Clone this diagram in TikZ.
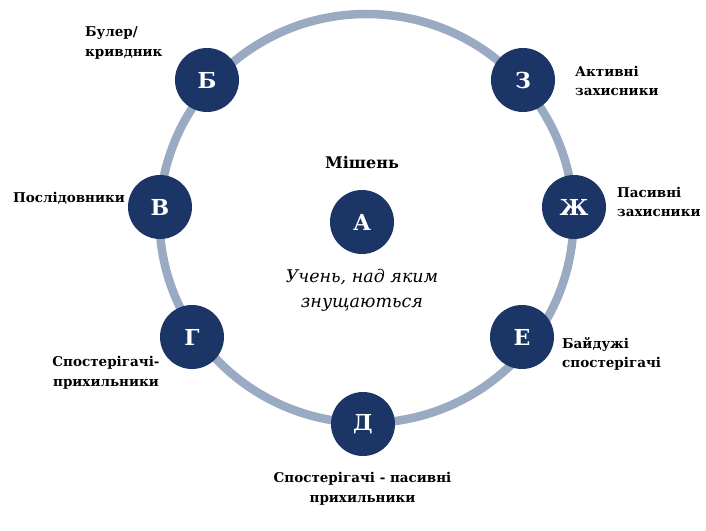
\documentclass[tikz,border=0pt]{standalone}
\usepackage{fontspec}
\setmainfont{DejaVu Serif}
\definecolor{navy}{HTML}{1B3566}
\definecolor{ringc}{HTML}{9AAAC2}
\begin{document}
\begin{tikzpicture}[x=1pt,y=1pt,
  role/.style={circle,fill=navy,minimum size=64pt,inner sep=0pt,text=white,font=\fontsize{22}{22}\selectfont\bfseries},
  lbl/.style={inner sep=0pt,font=\fontsize{13.5}{19.5}\selectfont\bfseries,text=black},
  lblL/.style={lbl,align=left,anchor=west},
  lblC/.style={lbl,align=center,anchor=center}]
\useasboundingbox (0,0) rectangle (706,-530);
\fill[white] (0,0) rectangle (706,-530);
\draw[ringc,line width=8.5pt] (366.5,-218.5) ellipse [x radius=207, y radius=204.5];
\node[role] (b) at (207,-80) {Б};
\node[role] (z) at (523,-80) {З};
\node[role] (v) at (160,-207) {В};
\node[role] (zh) at (574,-207) {Ж};
\node[role] (g) at (192,-337) {Г};
\node[role] (e) at (522,-337) {Е};
\node[role] (d) at (363,-424) {Д};
\node[role] (a) at (362,-222) {А};
\node[inner sep=0pt,font=\fontsize{16}{16}\selectfont\bfseries] (title) at (362,-163) {Мішень};
\node[inner sep=0pt,align=center,font=\fontsize{17.5}{25}\selectfont\itshape] (target) at (362,-290) {Учень, над яким\\знущаються};
\node[lblL] (lb) at (85,-43) {Булер/\\кривдник};
\node[lbl,anchor=west] (lv) at (13,-198) {Послідовники};
\node[lblL] (lz) at (575,-81) {Активні\\захисники};
\node[lblL] (lzh) at (617,-202) {Пасивні\\захисники};
\node[lblL] (le) at (562,-354) {Байдужі\\спостерігачі};
\node[lblC] (lg) at (106,-373) {Спостерігачі-\\прихильники};
\node[lblC] (ld) at (362.5,-489) {Спостерігачі - пасивні\\прихильники};
\end{tikzpicture}
\end{document}
